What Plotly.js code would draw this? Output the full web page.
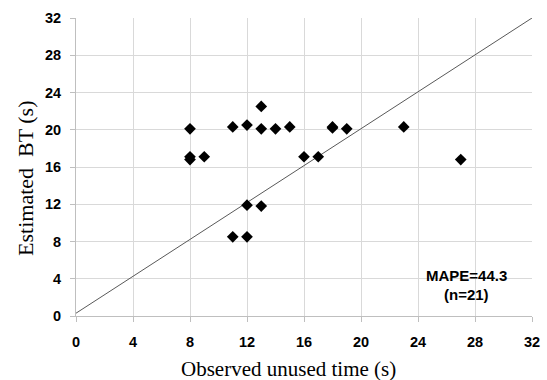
<!DOCTYPE html>
<html><head><meta charset="utf-8">
<script src="https://cdn.plot.ly/plotly-3.0.1.min.js"></script>
<style>body{margin:0;background:#fff}#chart{width:547px;height:380px}</style>
</head><body><div id="chart"></div>
<script>
const observed = [8, 8, 8, 9, 11, 12, 13, 13, 14, 15, 18, 18, 19, 16, 17, 12, 13, 11, 12, 23, 27];
const estimated = [20.1, 17.1, 16.8, 17.1, 20.3, 20.5, 22.5, 20.1, 20.1, 20.3, 20.3, 20.2, 20.1, 17.1, 17.1, 11.9, 11.8, 8.5, 8.5, 20.3, 16.8];
const refX = [0, 32];
const refY = [0.3, 32];
const tickVals = [0, 4, 8, 12, 16, 20, 24, 28, 32];
const xTitle = "Observed unused time (s)";
const yTitle = "Estimated  BT (s)";
const noteLines = ["MAPE=44.3", "(n=21)"];

const tickFont = {family: "'Liberation Sans', Arial, sans-serif", size: 14.5, color: "#000", weight: 700};
const titleFont = {family: "'Liberation Serif', serif", size: 21, color: "#000"};
const noteFont = {family: "'Liberation Sans', Arial, sans-serif", size: 15, color: "#000", weight: 700};
const tickText = tickVals.map(v => "<b>" + v + "</b>");
const traces = [
  {x: refX, y: refY, mode: "lines", line: {color: "#595959", width: 1}, hoverinfo: "skip", showlegend: false},
  {x: observed, y: estimated, mode: "markers", type: "scatter",
   marker: {symbol: "diamond", size: 9, color: "#000"}, showlegend: false}
];
const layout = {
  width: 547, height: 380,
  margin: {l: 76, r: 15, t: 18, b: 64},
  paper_bgcolor: "#fff", plot_bgcolor: "#fff",
  showlegend: false,
  xaxis: {range: [0, 32], tickvals: tickVals, ticktext: tickText,
    showgrid: true, gridcolor: "#d9d9d9", gridwidth: 1, zeroline: false,
    showline: true, linecolor: "#bfbfbf", linewidth: 1,
    ticks: "outside", ticklen: 5, tickcolor: "#bfbfbf",
    ticklabelstandoff: 8,
    tickfont: tickFont},
  yaxis: {range: [0, 32], tickvals: tickVals, ticktext: tickText,
    showgrid: true, gridcolor: "#d9d9d9", gridwidth: 1, zeroline: false,
    showline: true, linecolor: "#bfbfbf", linewidth: 1,
    ticks: "outside", ticklen: 5, tickcolor: "#bfbfbf",
    ticklabelstandoff: 6,
    tickfont: tickFont},
  annotations: [
    {xref: "paper", yref: "paper", x: 0.467, y: -0.178, xanchor: "center", yanchor: "middle",
     showarrow: false, text: xTitle, font: titleFont},
    {xref: "paper", yref: "paper", x: -0.112, y: 0.463, xanchor: "center", yanchor: "middle",
     showarrow: false, text: yTitle, textangle: -90, font: {family: titleFont.family, size: 22, color: "#000"}},
    {xref: "x", yref: "y", x: 27.37, y: 4.4, showarrow: false, text: "<b>" + noteLines[0] + "</b>", font: noteFont},
    {xref: "x", yref: "y", x: 27.37, y: 2.26, showarrow: false, text: "<b>" + noteLines[1] + "</b>", font: noteFont}
  ]
};
Plotly.newPlot("chart", traces, layout, {displayModeBar: false, staticPlot: true});
</script></body></html>
